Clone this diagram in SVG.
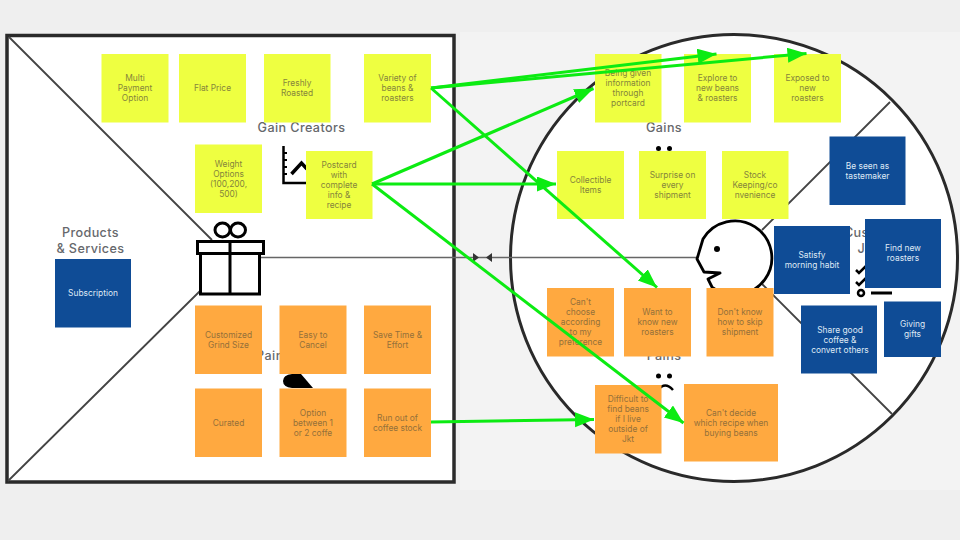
<svg xmlns="http://www.w3.org/2000/svg" width="960" height="540" viewBox="0 0 960 540">
<style>
text{font-family:"Inter","Open Sans","Liberation Sans",sans-serif;text-anchor:middle}
.y rect{fill:#eeff41}.o rect{fill:#ffa940}.b rect{fill:#0f4c96}
.y text{font-size:8.4px;fill:#85853c}.o text{font-size:8.4px;fill:#94703a}.b text{font-size:8.4px;fill:#dfe9f5}
.h{font-size:12.6px;font-weight:500;fill:#66686c;letter-spacing:.4px}
.k{fill:none;stroke:#000;stroke-width:3}
.d{stroke:#444;stroke-width:1.8;fill:none}
#connectors line{stroke:#0ceb12;stroke-width:3;marker-end:url(#ah)}
</style>
<defs>
<marker id="ah" markerUnits="userSpaceOnUse" markerWidth="21" markerHeight="17" refX="19" refY="7.500" orient="auto"><path d="M0,0 L19,7.500 L0,15 Z" fill="#0ceb12"/></marker>
</defs>
<rect width="960" height="540" fill="#efefef"/>
<rect x="460" y="32" width="500" height="458" fill="#f3f3f3"/>
<g id="canvas">
<rect x="7" y="35.500" width="447" height="446.500" fill="#fff" stroke="#2a2a2a" stroke-width="3.500"/>
<circle cx="734" cy="258" r="223.500" fill="#fff" stroke="#2a2a2a" stroke-width="3"/>
<path class="d" d="M9,37 L212,240 M8,481 L201,290 M890,102 L762,230 M762,284 L892,414"/>
<path d="M260,257.500 H697" stroke="#666" stroke-width="1.600" fill="none"/>
<path d="M473,253 L479,257.500 L473,262 Z M492,253 L486,257.500 L492,262 Z" fill="#333"/>
</g>
<g id="gift-icon" class="k">
<ellipse cx="222.500" cy="230" rx="7.500" ry="7"/><ellipse cx="238" cy="230" rx="7.500" ry="7"/>
<rect x="200.500" y="253.500" width="59" height="40.500" fill="#fff"/>
<rect x="197.500" y="241.500" width="66" height="12" fill="#fff"/>
<path d="M230,241 V294"/>
</g>
<g id="gain-icon" class="k">
<path d="M283.500,146 V183 H306" stroke-width="2.500"/>
<path d="M291.500,174 L301.500,163 L307,169" stroke-width="3.500"/>
<path d="M283,153 H287 M283,160 H287 M283,167 H287 M283,174 H287" stroke-width="2"/>
</g>
<g id="pain-icon"><path d="M292,374 H301 L313,388 H292 Q283,387 283,381 Q283,375 292,374 Z" fill="#000"/></g>
<g id="face">
<path d="M703,239 A37,37 0 1 1 712,287 L708,279 L720,273 L704,272 L697,259 Z" fill="#fff" stroke="#000" stroke-width="2.800" stroke-linejoin="round"/>
<circle cx="717" cy="249" r="3" fill="#000"/>
</g>
<g id="gains-smile" fill="#000"><circle cx="658.500" cy="148.500" r="2.500"/><circle cx="669.500" cy="148.500" r="2.500"/></g>
<g id="pains-frown"><circle cx="658.500" cy="376" r="2.500"/><circle cx="669.500" cy="376" r="2.500"/><path d="M658,390 Q665,381 673,390" fill="none" stroke="#000" stroke-width="2.500"/></g>
<g id="jobs-icon" fill="none" stroke="#000">
<path d="M856,270 L859,273 L866,266 M856,282 L859,285 L866,278" stroke-width="2.500"/>
<circle cx="861" cy="293" r="3" stroke-width="2.500"/><path d="M871,293 H892" stroke-width="3"/>
</g>
<g id="labels">
<text class="h" x="301.500" y="132">Gain Creators</text>
<text class="h" x="90.500" y="237">Products</text>
<text class="h" x="90.500" y="252.500">&amp; Services</text>
<text class="h" x="664" y="132">Gains</text>
<text class="h" x="301" y="359.500">Pain Relievers</text>
<text class="h" x="664" y="359.500">Pains</text>
<text class="h" x="875" y="237">Customer</text>
<text class="h" x="873" y="252.500">Jobs</text>
</g>
<g id="n-multi" class="y"><rect x="101.500" y="54" width="67" height="68.500"/><text x="135" y="81">Multi</text><text x="135" y="91">Payment</text><text x="135" y="101">Option</text></g>
<g id="n-flat" class="y"><rect x="179" y="54" width="67" height="68.500"/><text x="212.500" y="91">Flat Price</text></g>
<g id="n-fresh" class="y"><rect x="264" y="54" width="66.500" height="68.500"/><text x="297" y="86">Freshly</text><text x="297" y="96">Roasted</text></g>
<g id="n-variety" class="y"><rect x="364" y="54" width="67" height="68.500"/><text x="397.500" y="81">Variety of</text><text x="397.500" y="91">beans &amp;</text><text x="397.500" y="101">roasters</text></g>
<g id="n-weight" class="y"><rect x="195" y="144.500" width="67" height="68.500"/><text x="228.500" y="166.500">Weight</text><text x="228.500" y="176.500">Options</text><text x="228.500" y="186.500">(100,200,</text><text x="228.500" y="196.500">500)</text></g>
<g id="n-postcard" class="y"><rect x="306" y="151" width="66.500" height="68"/><text x="339" y="168">Postcard</text><text x="339" y="178">with</text><text x="339" y="188">complete</text><text x="339" y="198">info &amp;</text><text x="339" y="208">recipe</text></g>
<g id="n-subscription" class="b"><rect x="55" y="259" width="76" height="68.500"/><text x="93" y="296">Subscription</text></g>
<g id="n-custom" class="o"><rect x="195" y="305.500" width="67" height="68.500"/><text x="228.500" y="337.500">Customized</text><text x="228.500" y="347.500">Grind Size</text></g>
<g id="n-cancel" class="o"><rect x="279.500" y="305.500" width="67" height="68.500"/><text x="313" y="337.500">Easy to</text><text x="313" y="347.500">Cancel</text></g>
<g id="n-save" class="o"><rect x="364" y="305.500" width="67" height="68.500"/><text x="397.500" y="337.500">Save Time &amp;</text><text x="397.500" y="347.500">Effort</text></g>
<g id="n-curated" class="o"><rect x="195" y="388.500" width="67" height="68.500"/><text x="228.500" y="426">Curated</text></g>
<g id="n-option" class="o"><rect x="279.500" y="388.500" width="67" height="68.500"/><text x="313" y="416">Option</text><text x="313" y="426">between 1</text><text x="313" y="436">or 2 coffe</text></g>
<g id="n-runout" class="o"><rect x="364" y="388.500" width="67" height="68.500"/><text x="397.500" y="421">Run out of</text><text x="397.500" y="431">coffee stock</text></g>
<g id="n-being" class="y"><rect x="595" y="54" width="66.500" height="68.500"/><text x="628" y="76">Being given</text><text x="628" y="86">information</text><text x="628" y="96">through</text><text x="628" y="106">portcard</text></g>
<g id="n-explore" class="y"><rect x="684" y="54" width="67" height="68.500"/><text x="717.500" y="81">Explore to</text><text x="717.500" y="91">new beans</text><text x="717.500" y="101">&amp; roasters</text></g>
<g id="n-exposed" class="y"><rect x="774" y="54" width="67" height="68.500"/><text x="807.500" y="81">Exposed to</text><text x="807.500" y="91">new</text><text x="807.500" y="101">roasters</text></g>
<g id="n-collectible" class="y"><rect x="557" y="151" width="67" height="68"/><text x="590.500" y="182.700">Collectible</text><text x="590.500" y="192.700">Items</text></g>
<g id="n-surprise" class="y"><rect x="639" y="151" width="67" height="68"/><text x="672.500" y="177.700">Surprise on</text><text x="672.500" y="187.700">every</text><text x="672.500" y="197.700">shipment</text></g>
<g id="n-stock" class="y"><rect x="722" y="151" width="66.500" height="68"/><text x="755" y="177.700">Stock</text><text x="755" y="187.700">Keeping/co</text><text x="755" y="197.700">nvenience</text></g>
<g id="n-seen" class="b"><rect x="829.500" y="136.500" width="76" height="68.500"/><text x="867.500" y="168.700">Be seen as</text><text x="867.500" y="178.700">tastemaker</text></g>
<g id="n-satisfy" class="b"><rect x="774" y="226" width="76" height="68"/><text x="812" y="258">Satisfy</text><text x="812" y="268">morning habit</text></g>
<g id="n-find" class="b"><rect x="865" y="219" width="76" height="69"/><text x="903" y="251.300">Find new</text><text x="903" y="261.300">roasters</text></g>
<g id="n-share" class="b"><rect x="801" y="305.500" width="76" height="68"/><text x="840" y="332.700">Share good</text><text x="840" y="342.700">coffee &amp;</text><text x="840" y="352.700">convert others</text></g>
<g id="n-giving" class="b"><rect x="884" y="301.500" width="57" height="55.500"/><text x="912.500" y="327.300">Giving</text><text x="912.500" y="337.300">gifts</text></g>
<g id="n-choose" class="o"><rect x="547" y="288" width="67" height="68.500"/><text x="580.500" y="305">Can't</text><text x="580.500" y="315">choose</text><text x="580.500" y="325">according</text><text x="580.500" y="335">to my</text><text x="580.500" y="345">preference</text></g>
<g id="n-want" class="o"><rect x="624" y="288" width="67" height="68.500"/><text x="657.500" y="315">Want to</text><text x="657.500" y="325">know new</text><text x="657.500" y="335">roasters</text></g>
<g id="n-skip" class="o"><rect x="706.500" y="288" width="67" height="68.500"/><text x="740" y="315">Don't know</text><text x="740" y="325">how to skip</text><text x="740" y="335">shipment</text></g>
<g id="n-difficult" class="o"><rect x="595" y="385" width="66.500" height="68.500"/><text x="628" y="402">Difficult to</text><text x="628" y="412">find beans</text><text x="628" y="422">if I live</text><text x="628" y="432">outside of</text><text x="628" y="442">Jkt</text></g>
<g id="n-decide" class="o"><rect x="684" y="384" width="94" height="77.500"/><text x="731" y="415.700">Can't decide</text><text x="731" y="425.700">which recipe when</text><text x="731" y="435.700">buying beans</text></g>
<g id="connectors">
<line x1="431" y1="88" x2="716.500" y2="54"/>
<line x1="431" y1="88" x2="806.500" y2="53.500"/>
<line x1="431" y1="88" x2="657" y2="287.500"/>
<line x1="372" y1="184" x2="593.500" y2="88.500"/>
<line x1="372" y1="184" x2="556" y2="184"/>
<line x1="372" y1="184" x2="683.500" y2="423"/>
<line x1="431" y1="422" x2="594" y2="419.500"/>
</g>
</svg>
